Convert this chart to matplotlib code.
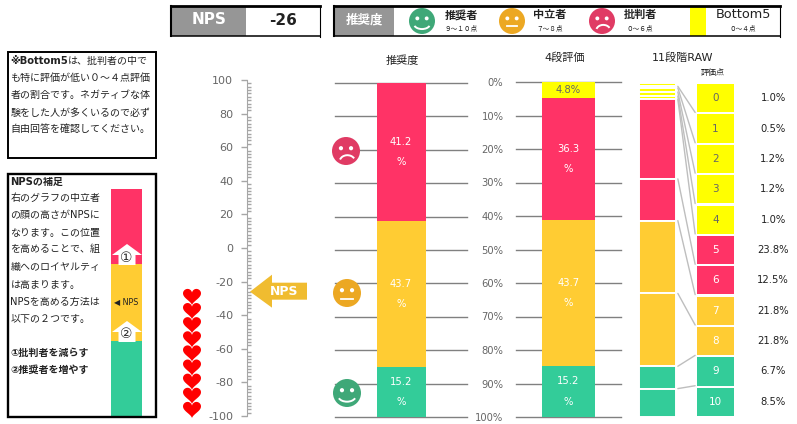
import matplotlib
matplotlib.use("Agg")
import numpy as np
import matplotlib.pyplot as plt
from matplotlib.patches import Circle, Polygon, Rectangle, Arc, ConnectionPatch

plt.rcParams['font.family'] = ['DejaVu Sans', 'Noto Sans CJK JP']
plt.rcParams['axes.unicode_minus'] = False

W, H = 797, 424

RED = "#FF3366"
ORANGE = "#FFCC33"
GREEN = "#33CC99"
YELLOW = "#FFFF00"
GRAY = "#969696"
TEXT = "#222222"
TICK = "#666666"

nps_value = -26
nps_ticks = [100, 80, 60, 40, 20, 0, -20, -40, -60, -80, -100]

group_colors = [RED, ORANGE, GREEN]
group_vals = [41.2, 43.7, 15.2]

step4_colors = [YELLOW, RED, ORANGE, GREEN]
step4_vals = [4.8, 36.3, 43.7, 15.2]

raw_scores = ["0", "1", "2", "3", "4", "5", "6", "7", "8", "9", "10"]
raw_vals = [1.0, 0.5, 1.2, 1.2, 1.0, 23.8, 12.5, 21.8, 21.8, 6.7, 8.5]
raw_colors = [YELLOW] * 5 + [RED] * 2 + [ORANGE] * 2 + [GREEN] * 2

pct_ticks = [0, 10, 20, 30, 40, 50, 60, 70, 80, 90, 100]
mini_vals = [33, 34, 33]
heart_count = 9

note_lines = ["も特に評価が低い０～４点評価", "者の割合です。ネガティブな体",
              "験をした人が多くいるので必ず", "自由回答を確認してください。"]
note_y = [78, 95, 113, 129]
help_lines = ["右のグラフの中立者", "の顔の高さがNPSに", "なります。この位置", "を高めることで、組",
              "織へのロイヤルティ", "は高まります。", "NPSを高める方法は", "以下の２つです。"]
help_y = [198, 215, 233, 249, 267, 285, 302, 319]


def px_axes(fig, x0, y0, x1, y1, **kw):
    return fig.add_axes([x0 / W, 1 - y1 / H, (x1 - x0) / W, (y1 - y0) / H], **kw)


def stacked(ax, vals, colors, width, edge=None, lw=0):
    bottom = 0
    for v, c in zip(vals, colors):
        ax.bar(0, v, width=width, bottom=bottom, color=c, edgecolor=edge, linewidth=lw, zorder=3)
        bottom += v
    ax.set_xlim(-0.5, 0.5)
    ax.set_ylim(100, 0)


def bar_labels(ax, vals):
    bottom = 0
    for v in vals:
        if v < 10:
            ax.text(0, bottom + v / 2, "%.1f%%" % v, color=TICK, fontsize=7.2, ha="center", va="center", zorder=4)
        else:
            mid = bottom + v / 2
            ax.text(0, mid - 3, "%.1f" % v, color="white", fontsize=7.2, ha="center", va="center", zorder=4)
            ax.text(0, mid + 3, "%", color="white", fontsize=7.2, ha="center", va="center", zorder=4)
        bottom += v


def pct_chart(ax, vals, colors, width):
    stacked(ax, vals, colors, width)
    ax.set_yticks(pct_ticks)
    ax.set_xticks([])
    ax.grid(axis="y", color="#808080", lw=1.0, zorder=1)
    for line in ax.yaxis.get_gridlines():
        line.set_clip_on(False)
    for s in ax.spines.values():
        s.set_visible(False)
    bar_labels(ax, vals)


def face(ax, x, y, r, color, kind):
    ax.add_patch(Circle((x, y), r, color=color, lw=0))
    ex, ey = r * 0.36, r * 0.2
    ax.add_patch(Circle((x - ex, y - ey), r * 0.15, color="white", lw=0))
    ax.add_patch(Circle((x + ex, y - ey), r * 0.15, color="white", lw=0))
    if kind == "happy":
        ax.add_patch(Arc((x, y + r * 0.22), r * 1.25, r * 0.8, theta1=15, theta2=165, color="white", lw=1.4))
    elif kind == "plain":
        ax.plot([x - r * 0.42, x + r * 0.42], [y + r * 0.42] * 2, color="white", lw=1.3)
    else:
        ax.add_patch(Arc((x + r * 0.1, y + r * 0.75), r * 1.1, r * 0.9, theta1=195, theta2=335, color="white", lw=1.4))


def top_box(ax, x0, x1, y0=6, y1=36):
    ax.plot([x0, x1], [y0, y0], color="black", lw=2.0, solid_capstyle="projecting")
    ax.plot([x0, x0], [y0, y1], color="black", lw=1.5)
    ax.plot([x0, x1], [y1, y1], color="black", lw=1.1)
    ax.plot([x1, x1], [y0, y1 + 1], color="black", lw=0.8)


def house_arrow(ax, cx, tip, base):
    ax.add_patch(Polygon([(cx, tip), (cx + 15, tip + 11), (cx + 8.5, tip + 11), (cx + 8.5, base),
                          (cx - 8.5, base), (cx - 8.5, tip + 11), (cx - 15, tip + 11)], color="white", lw=0))


def heart(ax, x, y, size, color):
    t = np.linspace(0, 2 * np.pi, 80)
    hx = 16 * np.sin(t) ** 3
    hy = 13 * np.cos(t) - 5 * np.cos(2 * t) - 2 * np.cos(3 * t) - np.cos(4 * t)
    ax.add_patch(Polygon(np.column_stack([x + hx * size / 32, y - (hy + 2.5) * size / 32]), color=color, lw=0))


fig = plt.figure(figsize=(W / 100, H / 100), dpi=100)
fig.patch.set_facecolor("white")

# NPS scale
ax_nps = px_axes(fig, 247, 80, 247.5, 416)
ax_nps.set_ylim(-100, 100)
ax_nps.set_xticks([])
ax_nps.set_yticks(nps_ticks)
ax_nps.set_yticks(np.arange(-100, 101, 2), minor=True)
ax_nps.tick_params(axis="y", which="major", length=4, width=1, color="#A6A6A6", labelcolor=TICK, labelsize=8, pad=6)
ax_nps.tick_params(axis="y", which="minor", length=3, width=1, color="#A6A6A6", left=False, right=True)
for name, s in ax_nps.spines.items():
    s.set_visible(name == "left")
    s.set_color("#A6A6A6")
ax_nps.patch.set_alpha(0)

# 推奨度
ax1 = px_axes(fig, 335, 83, 467, 417)
pct_chart(ax1, group_vals, group_colors, 49 / 132)
ax1.set_yticklabels([])
ax1.tick_params(axis="y", length=0)

# 4段評価
ax2 = px_axes(fig, 516, 82, 621, 417)
pct_chart(ax2, step4_vals, step4_colors, 53 / 105)
ax2.set_yticklabels(["%d%%" % t for t in pct_ticks])
ax2.tick_params(axis="y", length=0, labelcolor=TICK, labelsize=7.2, pad=9)

# 11段階RAW
ax3 = px_axes(fig, 639, 83, 676, 417)
stacked(ax3, raw_vals, raw_colors, 1.0, edge="white", lw=1.4)
ax3.axis("off")

# score cells
ax4 = px_axes(fig, 697, 83, 734, 417)
ax4.barh(range(len(raw_scores)), [1] * len(raw_scores), height=0.93, left=0, color=raw_colors)
ax4.set_xlim(0, 1)
ax4.set_ylim(len(raw_scores) - 0.5, -0.5)
ax4.axis("off")
for i, (score, v, c) in enumerate(zip(raw_scores, raw_vals, raw_colors)):
    ax4.text(0.5, i, score, color=TICK if c == YELLOW else "white", fontsize=7.5, ha="center", va="center")
    ax4.annotate("%.1f%%" % v, xy=(1, i), xytext=(39, 0), textcoords="offset pixels", color=TEXT,
                 fontsize=7.2, ha="center", va="center")

# lines from the raw stack to the score cells
cum = np.cumsum(raw_vals)
for i in range(len(raw_vals) - 1):
    con = ConnectionPatch(xyA=(0.55, cum[i]), coordsA=ax3.transData, xyB=(-0.05, i + 0.47), coordsB=ax4.transData,
                          color="#BEBEBE", lw=1.0, zorder=2)
    fig.add_artist(con)

# overlay for boxes, faces and captions
ov = fig.add_axes([0, 0, 1, 1], zorder=10)
ov.set_xlim(0, W)
ov.set_ylim(H, 0)
ov.axis("off")
ov.patch.set_alpha(0)

# NPS box
ov.add_patch(Rectangle((171, 6), 75, 30, color=GRAY, lw=0))
top_box(ov, 171, 320)
ov.text(209, 20, "NPS", color="white", fontsize=11, weight="bold", ha="center", va="center")
ov.text(283, 20.5, str(nps_value), color=TEXT, fontsize=11, weight="bold", ha="center", va="center")

# legend strip
ov.add_patch(Rectangle((334, 6), 60, 30, color=GRAY, lw=0))
top_box(ov, 334, 780)
ov.text(364, 20, "推奨度", color="white", fontsize=9, weight="bold", ha="center", va="center")
face(ov, 422, 21, 13, "#3FA878", "happy")
face(ov, 512, 21, 13, "#ECA823", "plain")
face(ov, 602, 21, 13, "#E03B64", "sad")
ov.add_patch(Rectangle((690, 7), 16, 29, color=YELLOW, lw=0))
for x, name, sub in [(461, "推奨者", "９～１０点"), (550, "中立者", "７～８点"), (640, "批判者", "０～６点")]:
    ov.text(x, 15, name, color=TEXT, fontsize=8, weight="bold", ha="center", va="center")
    ov.text(x, 27.5, sub, color=TEXT, fontsize=4.8, ha="center", va="center")
ov.text(743, 15, "Bottom5", color=TEXT, fontsize=9.3, ha="center", va="center")
ov.text(743, 27.5, "０～４点", color=TEXT, fontsize=4.8, ha="center", va="center")

# chart captions
ov.text(402, 61, "推奨度", color=TEXT, fontsize=8, ha="center", va="center")
ov.text(565, 58, "4段評価", color=TEXT, fontsize=8, ha="center", va="center")
ov.text(683, 58, "11段階RAW", color=TEXT, fontsize=8, ha="center", va="center")
ov.text(713, 73, "評価点", color=TEXT, fontsize=5.8, ha="center", va="center")

# left notes
ov.add_patch(Rectangle((8, 52), 148, 106, fill=False, ec="black", lw=1.4))
ov.text(10.5, 61, "※Bottom5", color=TEXT, fontsize=7.2, weight="bold", va="center")
ov.text(68, 61, "は、批判者の中で", color=TEXT, fontsize=7.2, va="center")
for y, line in zip(note_y, note_lines):
    ov.text(10.5, y, line, color=TEXT, fontsize=7.2, va="center")

ov.add_patch(Rectangle((8, 174), 148, 243, fill=False, ec="black", lw=1.7))
ov.text(10.5, 182, "NPSの補足", color=TEXT, fontsize=7.2, weight="bold", va="center")
for y, line in zip(help_y, help_lines):
    ov.text(10.5, y, line, color=TEXT, fontsize=7.2, va="center")
ov.text(10.5, 353, "①批判者を減らす", color=TEXT, fontsize=7.2, weight="bold", va="center")
ov.text(10.5, 370, "②推奨者を増やす", color=TEXT, fontsize=7.2, weight="bold", va="center")

# small explanation bar
ax_mini = px_axes(fig, 111, 189, 142, 416, zorder=5)
stacked(ax_mini, mini_vals, group_colors, 1.0)
ax_mini.axis("off")
house_arrow(ov, 127, 244, 265)
house_arrow(ov, 127, 321, 342)
ov.text(126, 257.5, "①", color="#333333", fontsize=10, ha="center", va="center")
ov.text(126, 333.5, "②", color="#333333", fontsize=10, ha="center", va="center")
ov.text(126, 302, "◀ NPS", color=TEXT, fontsize=5.8, ha="center", va="center")

# faces beside the first bar
face(ov, 346, 151, 14, "#E03B64", "sad")
face(ov, 347, 293, 14, "#ECA823", "plain")
face(ov, 347, 393, 14, "#3FA878", "happy")

# NPS arrow pointing at the score on the scale
tip_y = H - ax_nps.transData.transform((0, nps_value))[1]
ov.add_patch(Polygon([(250, tip_y), (272, tip_y - 17), (272, tip_y - 9), (307, tip_y - 9),
                      (307, tip_y + 8), (272, tip_y + 8), (272, tip_y + 16)], color="#F0BC30", lw=0))
ov.text(284, tip_y, "NPS", color="white", fontsize=9, weight="bold", ha="center", va="center")

# column of hearts
for y in np.linspace(297, 410, heart_count):
    heart(ov, 192, y, 18, "#FF0000")

fig.savefig("out.png", dpi=100)
